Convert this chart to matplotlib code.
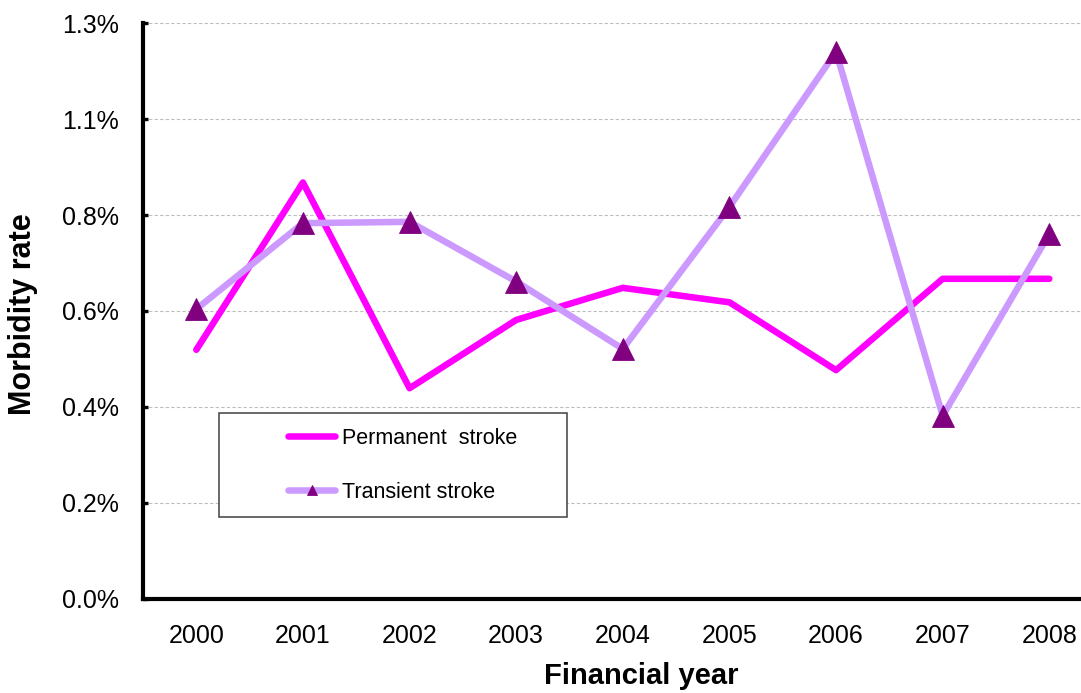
import numpy as np
import matplotlib
matplotlib.use("Agg")
import matplotlib.pyplot as plt
from matplotlib.ticker import PercentFormatter, FixedLocator
from matplotlib.patches import Rectangle

plt.rcParams['font.family'] = ['Liberation Sans', 'DejaVu Sans']

# ---- data (morbidity rate, %) ----
years = ["2000", "2001", "2002", "2003", "2004", "2005", "2006", "2007", "2008"]
permanent = [0.550, 0.920, 0.465, 0.616, 0.687, 0.655, 0.505, 0.707, 0.707]
transient = [0.640, 0.830, 0.833, 0.701, 0.552, 0.866, 1.209, 0.404, 0.806]
series_names = ["Permanent  stroke", "Transient stroke"]
y_step = 0.212
n_yticks = 7

W, H = 1081, 693
fig = plt.figure(figsize=(W / 100, H / 100), dpi=100)
ax = fig.add_axes([143 / W, (H - 598.5) / H, (1102.6 - 143) / W, 575.2 / H])

x = np.arange(len(years))
ax.plot(x, permanent, color='#FF00FF', lw=4.7, solid_capstyle='round',
        solid_joinstyle='round', label=series_names[0], zorder=3)
ax.plot(x, transient, color='#CC99FF', lw=4.7, solid_capstyle='round',
        solid_joinstyle='round', marker='^', markersize=16,
        markerfacecolor='#800080', markeredgecolor='#800080', markeredgewidth=0.6,
        label=series_names[1], zorder=4)

ax.set_xlim(-0.5, len(years) - 0.5)
ax.set_ylim(0, y_step * (n_yticks - 1))
ax.set_xticks(x)
ax.set_xticklabels(years)
ax.yaxis.set_major_locator(FixedLocator(np.arange(n_yticks) * y_step))
ax.yaxis.set_major_formatter(PercentFormatter(xmax=100, decimals=1))

ax.tick_params(axis='x', length=0, pad=18.5, labelsize=18)
ax.tick_params(axis='y', direction='in', length=3.8, width=2.4, pad=17.5,
               labelsize=18, color='black')

ax.grid(axis='y', color='#BEBEBE', lw=0.8, linestyle=(0, (3, 2)))
ax.set_axisbelow(True)

for s in ['top', 'right']:
    ax.spines[s].set_visible(False)
for s in ['left', 'bottom']:
    ax.spines[s].set_linewidth(3.0)
    ax.spines[s].set_color('black')

fig.text(641.5 / W, 1 - 676 / H, "Financial year", fontsize=21, fontweight='bold',
         ha='center', va='center')
fig.text(23 / W, 1 - 314 / H, "Morbidity rate", fontsize=22, fontweight='bold',
         ha='center', va='center', rotation=90)

# legend box
rect = Rectangle((219 / W, 1 - 517 / H), 348 / W, 104 / H, transform=fig.transFigure,
                 facecolor='white', edgecolor='#404040', lw=1.1, zorder=6, clip_on=False)
ax.add_artist(rect)

leg = ax.legend(loc='center left', bbox_to_anchor=(288 / W, 1 - 465.5 / H),
                bbox_transform=fig.transFigure, frameon=False, borderpad=0,
                borderaxespad=0, handlelength=2.2, handletextpad=0.3, labelspacing=1.53,
                prop={'family': ['Liberation Sans'], 'size': 15.5})
leg.set_zorder(7)
leg.legend_handles[1].set_markersize(7)

fig.savefig("out.png", dpi=100)
